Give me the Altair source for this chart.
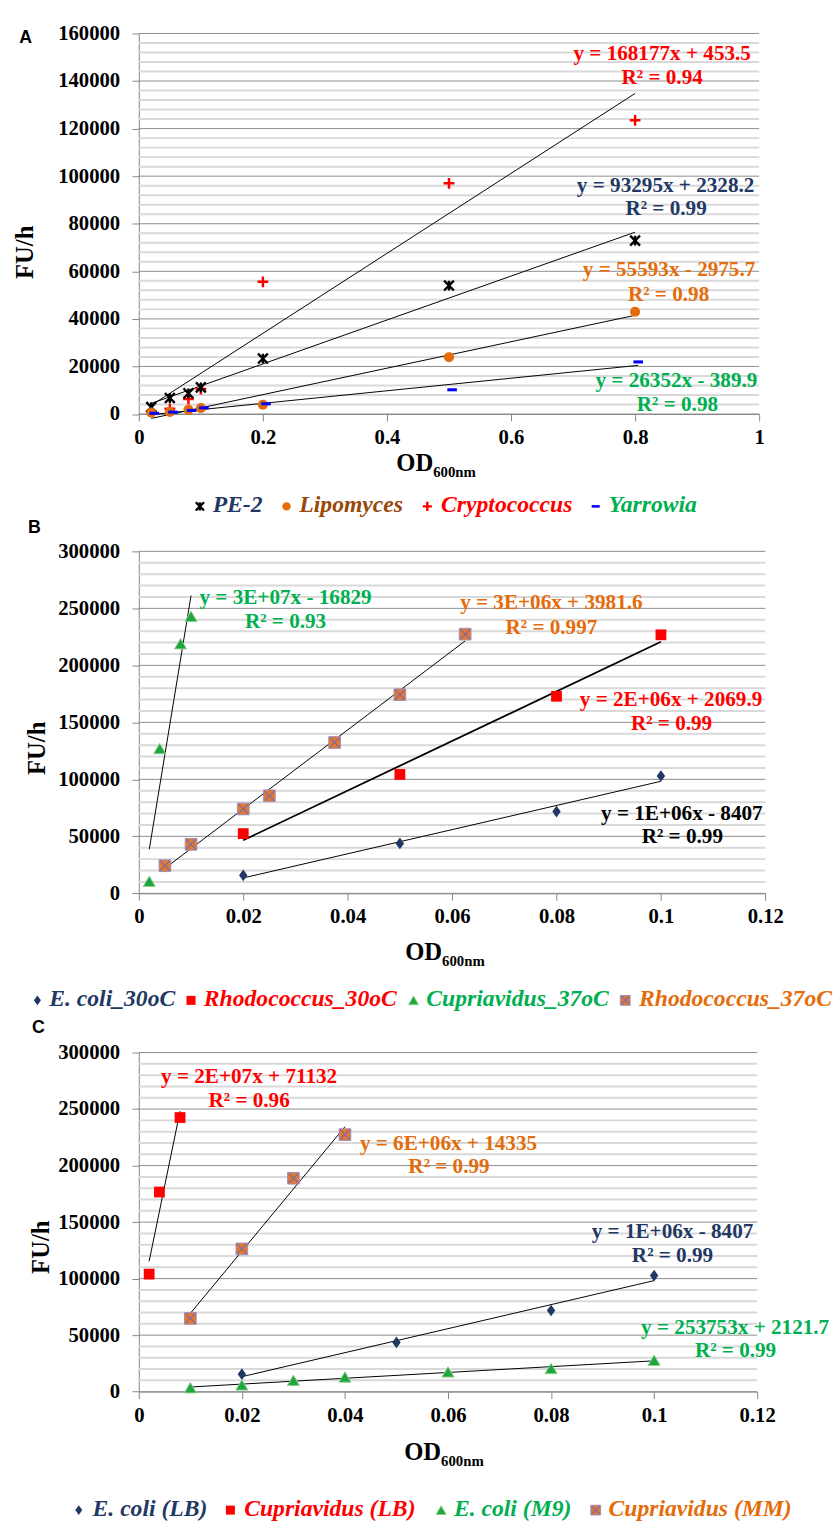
import altair as alt
import pandas as pd

SERIF = "Liberation Serif"
SANS = "Liberation Sans"
NAVY = "#1F3864"
RED = "#FF0000"
GREEN = "#00B050"
ORANGE = "#E46C0A"
BROWN = "#984807"
BLUE = "#0000FF"
AXIS_GRAY = "#868686"
MAJOR_GRID = "#8C8C8C"
MINOR_GRID = "#D9D9D9"

# ---------------- Panel A data ----------------
A_X = [0.02, 0.05, 0.08, 0.1, 0.2, 0.5, 0.8]
A_PE2 = [2900, 6750, 8700, 11200, 23300, 54000, 72900]
A_LIPO = [600, 830, 1800, 2500, 3900, 23900, 43000]
A_CRYPTO = [1200, 2200, 6300, 10500, 55600, 97000, 123500]
A_YARROWIA_X = [0.025, 0.055, 0.085, 0.105, 0.205, 0.505, 0.805]
A_YARROWIA = [300, 800, 1500, 2600, 4300, 10200, 21900]
A_XTICKS = [0, 0.2, 0.4, 0.6, 0.8, 1]
A_YTICKS = [0, 20000, 40000, 60000, 80000, 100000, 120000, 140000, 160000]
A_YMINOR_STEP = 4000
A_EQ = [
    ("y = 168177x + 453.5", "R² = 0.94"),
    ("y = 93295x + 2328.2", "R² = 0.99"),
    ("y = 55593x - 2975.7", "R² = 0.98"),
    ("y = 26352x - 389.9", "R² = 0.98"),
]
A_NAMES = ["Cryptococcus", "PE-2", "Lipomyces", "Yarrowia"]

# ---------------- Panel B data ----------------
B_NAMES = ["E. coli_30oC", "Rhodococcus_30oC", "Cupriavidus_37oC", "Rhodococcus_37oC"]
B_ECOLI_X = [0.02, 0.05, 0.08, 0.1]
B_ECOLI = [15800, 43800, 71700, 102900]
B_RHODO30_X = [0.02, 0.05, 0.08, 0.1]
B_RHODO30 = [52400, 104300, 172900, 226800]
B_CUPRI37_X = [0.002, 0.004, 0.008, 0.01]
B_CUPRI37 = [10600, 127000, 219000, 243000]
B_RHODO37_X = [0.005, 0.01, 0.02, 0.025, 0.0375, 0.05, 0.0625]
B_RHODO37 = [24200, 43000, 74000, 85600, 132300, 174300, 227400]
B_XTICKS = [0, 0.02, 0.04, 0.06, 0.08, 0.1, 0.12]
B_YTICKS = [0, 50000, 100000, 150000, 200000, 250000, 300000]
B_YMINOR_STEP = 10000
B_EQ = [
    ("y = 1E+06x - 8407", "R² = 0.99"),
    ("y = 2E+06x + 2069.9", "R² = 0.99"),
    ("y = 3E+07x - 16829", "R² = 0.93"),
    ("y = 3E+06x + 3981.6", "R² = 0.997"),
]

# ---------------- Panel C data ----------------
C_NAMES = ["E. coli (LB)", "Cupriavidus (LB)", "E. coli (M9)", "Cupriavidus (MM)"]
C_ECOLI_LB_X = [0.02, 0.05, 0.08, 0.1]
C_ECOLI_LB = [15500, 43600, 71800, 102700]
C_CUPRI_LB_X = [0.002, 0.004, 0.008]
C_CUPRI_LB = [104000, 176600, 242500]
C_ECOLI_M9_X = [0.01, 0.02, 0.03, 0.04, 0.06, 0.08, 0.1]
C_ECOLI_M9 = [3500, 6000, 10000, 13000, 17500, 20500, 27800]
C_CUPRI_MM_X = [0.01, 0.02, 0.03, 0.04]
C_CUPRI_MM = [64800, 126300, 188800, 227400]
C_XTICKS = [0, 0.02, 0.04, 0.06, 0.08, 0.1, 0.12]
C_YTICKS = [0, 50000, 100000, 150000, 200000, 250000, 300000]
C_YMINOR_STEP = 10000
C_EQ = [
    ("y = 1E+06x - 8407", "R² = 0.99"),
    ("y = 2E+07x + 71132", "R² = 0.96"),
    ("y = 253753x + 2121.7", "R² = 0.99"),
    ("y = 6E+06x + 14335", "R² = 0.99"),
]

# ---------------- marker shapes ----------------
STAR = "M-1,-1L1,1M-1,1L1,-1M0,-1L0,1"
PLUS = "M-1,0L1,0M0,-1L0,1"
DASH = "M-1,-0.32L1,-0.32L1,0.32L-1,0.32Z"
DIAMOND = "M0,-1L0.72,0L0,1L-0.72,0Z"
XMARK = "M-1,-1L1,1M-1,1L1,-1"

ONE = pd.DataFrame({"k": [0]})


def markers(kind, data, enc, scale=1.0):
    b = alt.Chart(data)
    if kind == "star":
        return [b.mark_point(shape=STAR, filled=False, stroke="black", strokeWidth=2.4,
                             size=100 * scale, opacity=1).encode(**enc)]
    if kind == "circle":
        return [b.mark_point(shape="circle", filled=True, color="#E46C0A", size=105 * scale,
                             opacity=1).encode(**enc)]
    if kind == "plus":
        return [b.mark_point(shape=PLUS, filled=False, stroke=RED, strokeWidth=2.5,
                             size=120 * scale, opacity=1).encode(**enc)]
    if kind == "dash":
        return [b.mark_point(shape=DASH, filled=True, color=BLUE, size=95 * scale,
                             opacity=1).encode(**enc)]
    if kind == "diamond":
        return [b.mark_point(shape=DIAMOND, filled=True, color=NAVY, size=140 * scale,
                             opacity=1).encode(**enc)]
    if kind == "square":
        return [b.mark_point(shape="square", filled=True, color=RED, size=120 * scale,
                             opacity=1).encode(**enc)]
    if kind == "triangle":
        return [b.mark_point(shape="triangle-up", filled=True, fill="#1FA63F", stroke="#8FD08F",
                             strokeWidth=1, size=150 * scale, opacity=1).encode(**enc)]
    if kind == "xsquare":
        return [
            b.mark_point(shape="square", filled=True, fill="#E8772E", stroke="#9A8CC0",
                         strokeWidth=1, size=140 * scale, opacity=1).encode(**enc),
            b.mark_point(shape=XMARK, filled=False, stroke="#6E6EB4", strokeWidth=1.1,
                         size=100 * scale, opacity=1).encode(**enc),
        ]
    raise ValueError(kind)


def build_panel(P):
    L, T, W, H = P["left"], P["top"], P["width"], P["height"]
    xs = alt.Scale(domain=[P["xticks"][0], P["xticks"][-1]], nice=False, zero=False)
    ys = alt.Scale(domain=[P["yticks"][0], P["yticks"][-1]], nice=False, zero=False)
    common = dict(grid=False, title=None, domainColor=AXIS_GRAY, tickColor=AXIS_GRAY,
                  tickSize=7, tickWidth=1, domainWidth=1, labelFont=SERIF, labelFontSize=21,
                  labelFontWeight="bold", labelColor="black", labelOverlap=False)
    X = alt.X("x:Q", scale=xs, axis=alt.Axis(values=P["xticks"], format=P["xfmt"],
                                              labelPadding=6, labelFlush=False, **common))
    Y = alt.Y("y:Q", scale=ys, axis=alt.Axis(values=P["yticks"], format="d", labelPadding=12.5,
                                              **common))

    def at(ax, ay):
        return dict(x=alt.value(ax - L), y=alt.value(ay - T))

    layers = []
    # spacer defining the row bounds (invisible)
    layers.append(alt.Chart(ONE).mark_rule(strokeOpacity=0, strokeWidth=1).encode(
        x=alt.value(-L), y=alt.value(P["row"][0] - T), y2=alt.value(P["row"][1] - T)))

    top = P["yticks"][-1]
    major = P["yticks"][1] - P["yticks"][0]
    step = P["minor"]
    minor_vals = [v for v in range(0, top + 1, step) if v % major != 0]
    layers.append(alt.Chart(pd.DataFrame({"y": minor_vals})).mark_rule(
        color=MINOR_GRID, strokeWidth=2).encode(y=Y, x=alt.value(0), x2=alt.value(W)))
    layers.append(alt.Chart(pd.DataFrame({"y": P["yticks"]})).mark_rule(
        color=MAJOR_GRID, strokeWidth=1).encode(y=Y, x=alt.value(0), x2=alt.value(W)))

    # trendlines (least-squares fit of each series)
    for s in P["series"]:
        df = pd.DataFrame({"x": s["x"], "y": s["y"]})
        layers.append(alt.Chart(df).transform_regression("x", "y").mark_line(
            color="black", strokeWidth=s.get("lw", 1)).encode(x=X, y=Y))
    # points
    for s in P["series"]:
        df = pd.DataFrame({"x": s["x"], "y": s["y"]})
        layers += markers(s["kind"], df, dict(x=X, y=Y))

    def text(t, ax, ay, size, color, weight="bold", style="normal", align="center",
             angle=0, font=SERIF):
        kw = dict(text=t, fontSize=size, font=font, fontWeight=weight, fontStyle=style,
                  color=color, align=align, baseline="middle")
        if angle:
            kw["angle"] = angle
        return alt.Chart(ONE).mark_text(**kw).encode(**at(ax, ay))

    # equations
    for s, (l1, l2) in zip(P["series"], P["eq"]):
        (x1, y1), (x2, y2) = s["eqpos"]
        layers.append(text(l1, x1, y1, 21.5, s["eqcolor"]))
        layers.append(text(l2, x2, y2, 21.5, s["eqcolor"]))

    # panel letter, axis titles
    lx, ly = P["letterpos"]
    layers.append(text(P["letter"], lx, ly, 18, "black", font=SANS))
    fx, fy = P["ytitlepos"]
    layers.append(text("FU/h", fx, fy, 25, "black", angle=270))
    ox, oy = P["xtitlepos"]
    layers.append(text("OD", ox, oy, 25, "black", align="right"))
    layers.append(text("600nm", ox, oy + 9, 15, "black", align="left"))

    # legend
    ly = P["legend_y"]
    for s, name in zip(P["series"], P["names"]):
        mx, tx = s["legpos"]
        layers += markers(s["kind"], ONE, at(mx, ly + 1), scale=0.7)
        layers.append(text(name, tx, ly, 24, s["legcolor"], style="italic", align="left"))

    return alt.layer(*layers).properties(width=W, height=H)


PANEL_A = dict(
    left=140, top=20.7, width=630, height=386.5, row=(0, 512), xfmt=".1~f",
    xticks=A_XTICKS, yticks=A_YTICKS, minor=A_YMINOR_STEP, names=A_NAMES, letter="A",
    letterpos=(25, 25), ytitlepos=(25, 243), xtitlepos=(439, 457), legend_y=500,
    eq=A_EQ,
    series=[
        dict(x=A_X, y=A_CRYPTO, kind="plus", eqcolor=RED, eqpos=((671.5, 42), (671.5, 66)),
             legpos=(433, 447), legcolor=RED),
        dict(x=A_X, y=A_PE2, kind="star", eqcolor=NAVY, eqpos=((675, 176), (675.5, 199)),
             legpos=(202, 215), legcolor=NAVY),
        dict(x=A_X, y=A_LIPO, kind="circle", eqcolor=ORANGE, eqpos=((678.5, 261), (678, 286)),
             legpos=(290, 303), legcolor=BROWN),
        dict(x=A_YARROWIA_X, y=A_YARROWIA, kind="dash", eqcolor=GREEN,
             eqpos=((686, 374), (687, 398)), legpos=(604, 617), legcolor=GREEN),
    ],
)

PANEL_B = dict(
    left=128, top=545, width=636.3, height=347.3, row=(512, 1012), xfmt=".2~f",
    xticks=B_XTICKS, yticks=B_YTICKS, minor=B_YMINOR_STEP, names=B_NAMES, letter="B",
    letterpos=(22, 521), ytitlepos=(25, 745), xtitlepos=(436, 952), legend_y=1000,
    eq=B_EQ,
    series=[
        dict(x=B_ECOLI_X, y=B_ECOLI, kind="diamond", eqcolor="black",
             eqpos=((679.5, 812), (680, 835)), legpos=(25, 37), legcolor=NAVY),
        dict(x=B_RHODO30_X, y=B_RHODO30, kind="square", eqcolor=RED, lw=1.8,
             eqpos=((668.5, 696), (669, 720)), legpos=(181, 194), legcolor=RED),
        dict(x=B_CUPRI37_X, y=B_CUPRI37, kind="triangle", eqcolor=GREEN,
             eqpos=((277, 592), (277, 617)), legpos=(407, 420), legcolor=GREEN),
        dict(x=B_RHODO37_X, y=B_RHODO37, kind="xsquare", eqcolor=ORANGE,
             eqpos=((547, 598), (547, 623)), legpos=(622, 636), legcolor=ORANGE),
    ],
)

PANEL_C = dict(
    left=124, top=1052.3, width=628, height=344.4, row=(1012, 1529), xfmt=".2~f",
    xticks=C_XTICKS, yticks=C_YTICKS, minor=C_YMINOR_STEP, names=C_NAMES, letter="C",
    letterpos=(22, 1027), ytitlepos=(25, 1250), xtitlepos=(431, 1458), legend_y=1516,
    eq=C_EQ,
    series=[
        dict(x=C_ECOLI_LB_X, y=C_ECOLI_LB, kind="diamond", eqcolor=NAVY,
             eqpos=((666, 1235), (666, 1259)), legpos=(63, 77), legcolor=NAVY),
        dict(x=C_CUPRI_LB_X, y=C_CUPRI_LB, kind="square", eqcolor=RED,
             eqpos=((236, 1077), (236, 1102)), legpos=(217, 231), legcolor=RED),
        dict(x=C_ECOLI_M9_X, y=C_ECOLI_M9, kind="triangle", eqcolor=GREEN,
             eqpos=((729.6, 1332), (730, 1355)), legpos=(431, 444), legcolor=GREEN),
        dict(x=C_CUPRI_MM_X, y=C_CUPRI_MM, kind="xsquare", eqcolor=ORANGE,
             eqpos=((438.5, 1145), (439, 1169)), legpos=(588, 601), legcolor=ORANGE),
    ],
)

chart = alt.concat(
    build_panel(PANEL_A), build_panel(PANEL_B), build_panel(PANEL_C), columns=1
).properties(
    align="none", bounds="full", spacing=0, padding=0, background="white"
).configure_view(stroke="transparent")

chart.save("out.html", embed_options={"renderer": "svg", "actions": False})
